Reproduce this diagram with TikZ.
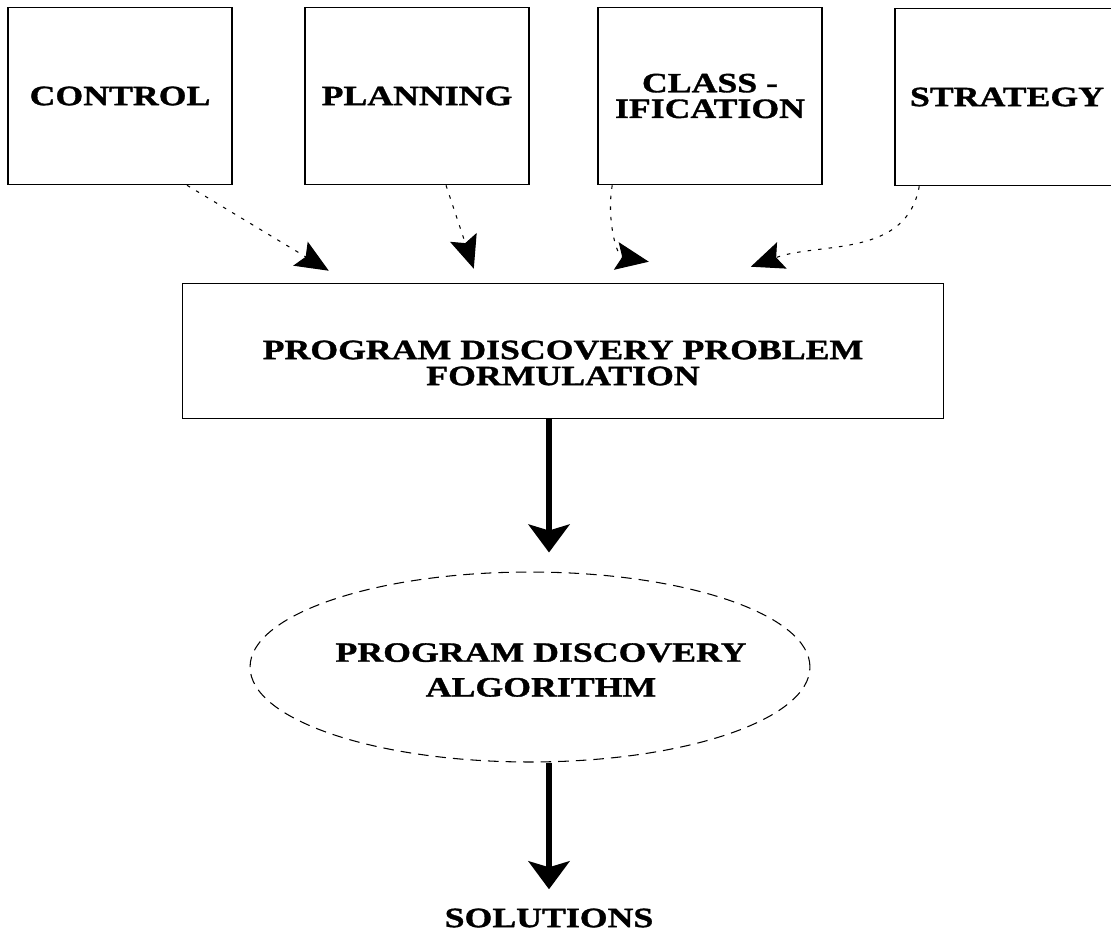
\documentclass[tikz,border=0pt]{standalone}
\usepackage{fontspec}
\newfontfamily\capfont[FakeStretch=1.28, FakeBold=1.2]{Liberation Serif}
\usetikzlibrary{shapes.geometric, arrows.meta, calc}

\begin{document}
\begin{tikzpicture}[x=0.02cm, y=-0.02cm,
    topbox/.style={draw, line width=0.9pt, minimum width=4.48cm, minimum height=3.54cm,
        inner sep=0pt, align=center, font=\capfont\bfseries\fontsize{15.9}{14.6}\selectfont},
    mainbox/.style={draw, line width=0.9pt, minimum width=15.22cm, minimum height=2.7cm,
        inner sep=0pt},
    oval/.style={ellipse, draw, line width=0.6pt, dash pattern=on 6pt off 4pt,
        minimum width=11.2cm, minimum height=3.8cm, inner sep=0pt},
    caption/.style={inner sep=0pt, align=center, font=\capfont\bfseries\fontsize{15.9}{14.8}\selectfont},
    feed/.style={line width=0.6pt, dash pattern=on 2pt off 4pt,
        -{Stealth[length=0.66cm, width=0.56cm, inset=0.12cm]}},
    flow/.style={line width=3.4pt, shorten >=0.38cm,
        -{Stealth[length=0.56cm, width=0.82cm, inset=0.12cm]}}]
        \useasboundingbox (0,0) rectangle (1111,936);

        % Four sources
        \node[topbox] (ctrl) at (120,96) {CONTROL};
        \node[topbox] (plan) at (417,96) {PLANNING};
        \node[topbox] (cls) at (710,96) {CLASS -\\IFICATION};
        \node[topbox] (strat) at (1007,97) {STRATEGY};

        % Formulation and algorithm
        \node[mainbox] (prob) at (563,351) {};
        \node[caption] (probtxt) at ($(prob.center)+(0,12)$) {PROGRAM DISCOVERY PROBLEM\\FORMULATION};
        \node[oval] (algo) at (530,667) {};
        \node[caption] (algotxt) at (541,670) {PROGRAM DISCOVERY\\[5pt]ALGORITHM};
        \node[caption] (sol) at (549,918) {SOLUTIONS};

        % Arrow tips above the formulation box
        \coordinate (tip1) at ($(prob.north west)+(147,-12)$);
        \coordinate (tip2) at ($(prob.north west)+(292,-14)$);
        \coordinate (tip3) at ($(prob.north west)+(467,-21)$);
        \coordinate (tip4) at ($(prob.north west)+(569,-16)$);

        \draw[feed] ($(ctrl.south)+(67,0)$) -- (tip1);
        \draw[feed] ($(plan.south)+(29,0)$) -- (tip2);
        \draw[feed] ($(cls.south west)+(15,0)$) to[out=-100, in=170] (tip3);
        \draw[feed] ($(strat.south west)+(25,0)$) to[out=-100, in=20] (tip4);

        % Main flow
        \draw[flow] (prob.south -| sol) -- (algo.north -| sol);
        \draw[flow] (algo.south -| sol) -- (sol.north);
\end{tikzpicture}
\end{document}
